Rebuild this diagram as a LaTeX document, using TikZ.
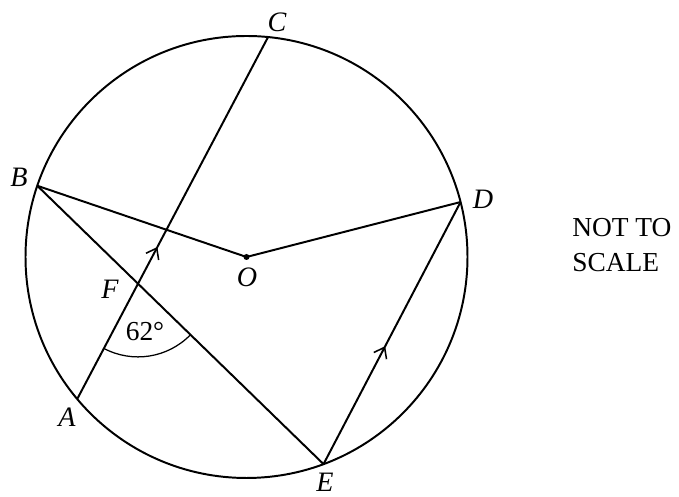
\documentclass[tikz,border=0pt]{standalone}
\usepackage{fontspec}
\setmainfont{Liberation Serif}
\usetikzlibrary{arrows.meta,angles,decorations.markings}

\begin{document}
\begin{tikzpicture}[
  x=0.025cm, y=0.025cm,
  rim/.style={line width=1.4pt},
  chord/.style={line width=1.4pt, line join=round},
  midarrow/.style={postaction={decorate}, decoration={markings,
    mark=at position #1 with {\arrow{Straight Barb[length=2.4mm,width=3.6mm,line width=1.1pt]}}}},
  pt/.style={font=\fontsize{20}{24}\selectfont\itshape, inner sep=0pt},
  note/.style={font=\fontsize{19.5}{25}\selectfont, align=left, inner sep=0pt}]
\useasboundingbox (0,0) rectangle (679,497);
\coordinate (O) at (246.5,240);
\coordinate (C) at ([shift={(84.4:221)}]O);
\coordinate (B) at ([shift={(161.2:221)}]O);
\coordinate (D) at ([shift={(14.4:221)}]O);
\coordinate (A) at ([shift={(220:221)}]O);
\coordinate (E) at ([shift={(290.4:221)}]O);
\coordinate (F) at (intersection of A--C and B--E);
\draw[rim] (O) circle[radius=221];
\draw[chord, midarrow=0.42] (A) -- (C);
\draw[chord] (B) -- (E);
\draw[chord] (B) -- (O) -- (D);
\draw[chord, midarrow=0.45] (E) -- (D);
\fill (O) circle[radius=3];
\pic[draw, line width=0.9pt, angle radius=1.83cm] {angle=A--F--E};
\node[pt] (labC) at (277,475) {C};
\node[pt] (labB) at (19,320) {B};
\node[pt] (labD) at (483,298) {D};
\node[pt] (labO) at (247,220) {O};
\node[pt] (labF) at (110,208) {F};
\node[pt] (labA) at (67,80) {A};
\node[pt] (labE) at (325,15) {E};
\node[note] (ang) at (145,165) {62°};
\node[note, anchor=west] (nts) at (572,252) {NOT TO\\SCALE};
\end{tikzpicture}
\end{document}
